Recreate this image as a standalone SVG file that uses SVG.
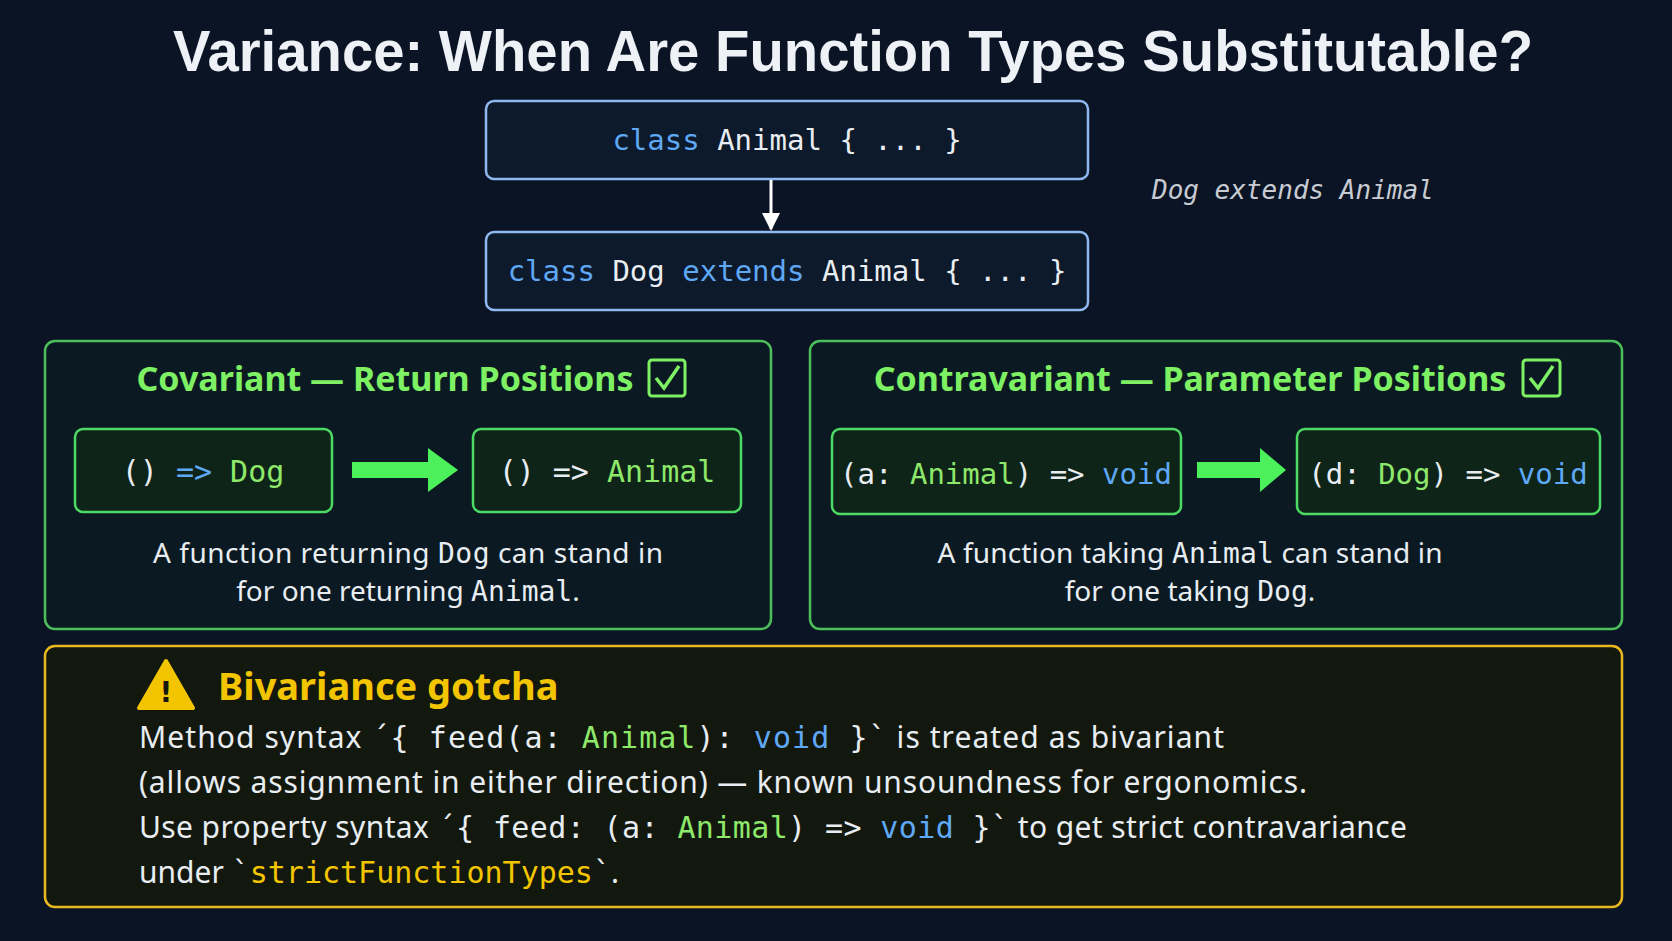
<svg xmlns="http://www.w3.org/2000/svg" width="1672" height="941" viewBox="0 0 1672 941">
<style>
.m{font-family:"DejaVu Sans Mono",monospace;fill:#e8edf2}
.s{font-family:"Noto Sans","DejaVu Sans",sans-serif;fill:#e8edf2}
.k{fill:#5fa8f5}.g{fill:#8ee86a}.y{fill:#f2c500}
.code{fill:#0d1a2b;stroke:#8fb8f0;stroke-width:2.5}
.panel{fill:#0b1a22;stroke:#4cbf5a;stroke-width:2.5}
.gbox{fill:#0e2418;stroke:#4cd964;stroke-width:2.5}
.ht{font-family:"Noto Sans","DejaVu Sans",sans-serif;font-weight:bold;fill:#7ef064;font-size:34px}
</style>
<defs><marker id="ah" markerWidth="18" markerHeight="18" refX="16" refY="9" orient="auto" markerUnits="userSpaceOnUse"><path d="M0,0L18,9L0,18z" fill="#fff"/></marker></defs>
<rect width="1672" height="941" fill="#0a1424"/>
<text x="853" y="71" text-anchor="middle" font-family="Liberation Sans,sans-serif" font-weight="bold" font-size="58" fill="#eef1f5" textLength="1360" lengthAdjust="spacingAndGlyphs">Variance: When Are Function Types Substitutable?</text>
<g id="animal"><rect class="code" x="486" y="101" width="602" height="78" rx="8"/><text class="m" x="787" y="150" font-size="29" text-anchor="middle"><tspan class="k">class</tspan> Animal { ... }</text></g>
<g id="dog"><rect class="code" x="486" y="232" width="602" height="78" rx="8"/><text class="m" x="787" y="281" font-size="29" text-anchor="middle"><tspan class="k">class</tspan> Dog <tspan class="k">extends</tspan> Animal { ... }</text></g>
<text class="m" x="1152" y="199" font-size="26" font-style="italic" style="fill:#c8ccd2">Dog extends Animal</text>
<g id="covariant"><rect class="panel" x="45" y="341" width="726" height="288" rx="10"/>
<text class="ht" x="385" y="391" text-anchor="middle">Covariant — Return Positions</text>
<rect x="649" y="360" width="36" height="36" rx="3" fill="none" stroke="#7ef064" stroke-width="3"/><path d="M656,378L664,388L679,366" fill="none" stroke="#7ef064" stroke-width="3.5"/>
<rect class="gbox" x="75" y="429" width="257" height="83" rx="8"/><text class="m" x="203" y="482" font-size="30" text-anchor="middle">() <tspan class="k">=&gt;</tspan> <tspan class="g">Dog</tspan></text>
<rect class="gbox" x="473" y="429" width="268" height="83" rx="8"/><text class="m" x="607" y="482" font-size="30" text-anchor="middle">() =&gt; <tspan class="g">Animal</tspan></text>
<text class="s" x="408" y="563" font-size="28" text-anchor="middle" textLength="510">A function returning <tspan class="m">Dog</tspan> can stand in</text>
<text class="s" x="408" y="601" font-size="28" text-anchor="middle">for one returning <tspan class="m">Animal</tspan>.</text></g>
<g id="contravariant"><rect class="panel" x="810" y="341" width="812" height="288" rx="10"/>
<text class="ht" x="1190" y="391" text-anchor="middle">Contravariant — Parameter Positions</text>
<rect x="1523" y="360" width="37" height="36" rx="3" fill="none" stroke="#7ef064" stroke-width="3"/><path d="M1530,378L1538,388L1553,366" fill="none" stroke="#7ef064" stroke-width="3.5"/>
<rect class="gbox" x="832" y="429" width="349" height="85" rx="8"/><text class="m" x="1006" y="484" font-size="29" text-anchor="middle">(a: <tspan class="g">Animal</tspan>) =&gt; <tspan class="k">void</tspan></text>
<rect class="gbox" x="1297" y="429" width="303" height="85" rx="8"/><text class="m" x="1448" y="484" font-size="29" text-anchor="middle">(d: <tspan class="g">Dog</tspan>) =&gt; <tspan class="k">void</tspan></text>
<text class="s" x="1190" y="563" font-size="28" text-anchor="middle" textLength="505">A function taking <tspan class="m">Animal</tspan> can stand in</text>
<text class="s" x="1190" y="601" font-size="28" text-anchor="middle">for one taking <tspan class="m">Dog</tspan>.</text></g>
<g id="connectors"><line x1="771" y1="180" x2="771" y2="229" stroke="#fff" stroke-width="3" marker-end="url(#ah)"/>
<path d="M352,462H428V448L458,470L428,492V478H352z" fill="#4cf05a"/>
<path d="M1197,462H1260V448L1286,470L1260,492V478H1197z" fill="#4cf05a"/></g>
<g id="bivariance"><rect x="45" y="646" width="1577" height="261" rx="10" fill="#13180f" stroke="#e8b820" stroke-width="2.5"/>
<path d="M166,661L193,708H139z" fill="#f2c500" stroke="#f2c500" stroke-width="4" stroke-linejoin="round"/><text x="166" y="702" text-anchor="middle" font-family="DejaVu Sans,sans-serif" font-weight="bold" font-size="28" fill="#13180f">!</text>
<text x="218" y="700" font-family="Noto Sans,DejaVu Sans,sans-serif" font-weight="bold" font-size="38" fill="#f2c500">Bivariance gotcha</text>
<text class="s" x="139" y="748" font-size="30" textLength="1085">Method syntax <tspan class="m">´{ feed(a: <tspan class="g">Animal</tspan>): <tspan class="k">void</tspan> }`</tspan>  is treated as bivariant</text>
<text class="s" x="139" y="793" font-size="30" textLength="1168">(allows assignment in either direction) — known unsoundness for ergonomics.</text>
<text class="s" x="139" y="838" font-size="30" textLength="1268">Use property syntax <tspan class="m">´{ feed: (a: <tspan class="g">Animal</tspan>) =&gt; <tspan class="k">void</tspan> }`</tspan> to get strict contravariance</text>
<text class="s" x="139" y="883" font-size="30">under <tspan class="m">`<tspan class="y">strictFunctionTypes</tspan>`</tspan>.</text></g>
</svg>
